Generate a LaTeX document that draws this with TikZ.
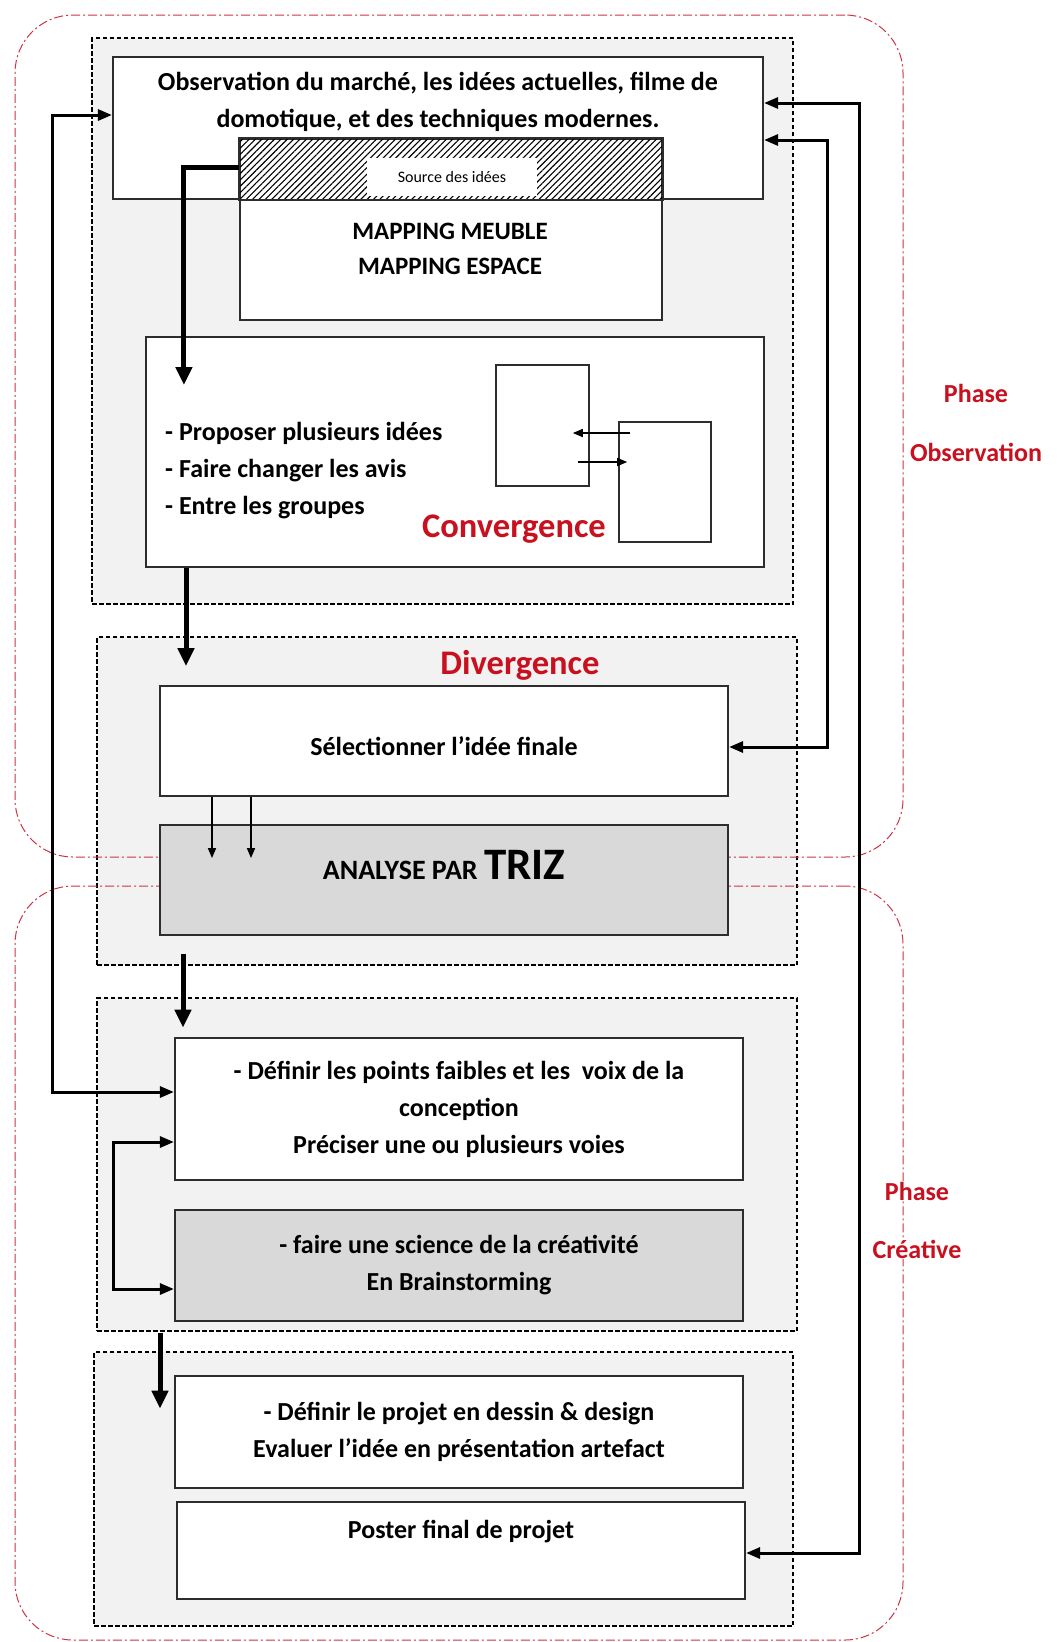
\documentclass[tikz,border=0pt]{standalone}
\usepackage{fontspec}
\setmainfont{Carlito}
\usetikzlibrary{arrows.meta,patterns.meta}
\definecolor{phasered}{RGB}{205,50,70}
\definecolor{labelred}{RGB}{200,16,30}
\definecolor{groupgray}{RGB}{242,242,242}
\definecolor{boxgray}{RGB}{217,217,217}
\definecolor{boxline}{RGB}{45,45,45}
\tikzset{
  phasebox/.style={draw=phasered, line width=1pt, dash pattern=on 9pt off 3pt on 2pt off 3pt, rounded corners=58pt, inner sep=0pt},
  groupbox/.style={draw=black, fill=groupgray, line width=1.2pt, dash pattern=on 4.5pt off 2.5pt, inner sep=0pt},
  stepbox/.style={draw=boxline, fill=white, line width=2.2pt, inner sep=0pt},
  graybox/.style={stepbox, fill=boxgray},
  bodytext/.style={font=\bfseries\fontsize{26}{37}\selectfont, align=center, inner sep=0pt},
  redtext/.style={text=labelred, font=\bfseries\fontsize{34.5}{40}\selectfont, inner sep=0pt},
  phasetext/.style={text=labelred, fill=white, font=\bfseries\fontsize{26}{30}\selectfont, inner sep=1pt},
  flowarrow/.style={-{Triangle[length=18pt,width=16pt]}, line width=5pt},
  looparrow/.style={{Triangle[length=14pt,width=11pt]}-{Triangle[length=14pt,width=11pt]}, line width=3pt},
  smallarrow/.style={-{Triangle[length=10pt,width=8pt]}, line width=1.6pt}
}

\begin{document}
\begin{tikzpicture}[x=1pt, y=-1pt]
\useasboundingbox (0,0) rectangle (1057,1642);
\node[groupbox, minimum width=701pt, minimum height=566pt] (g1) at (442.5,321) {};
\node[groupbox, minimum width=700pt, minimum height=328pt] (g2) at (447,801) {};
\node[groupbox, minimum width=700pt, minimum height=333pt] (g3) at (447,1164.5) {};
\node[groupbox, minimum width=699pt, minimum height=274pt] (g4) at (443.5,1489) {};
\node[phasebox, minimum width=888pt, minimum height=842pt] (ph1) at (459,436) {};
\node[phasebox, minimum width=888pt, minimum height=754pt] (ph2) at (459,1263) {};
\node[phasetext] (ph1a) at (976,393) {Phase};
\node[phasetext] (ph1b) at (976,452) {Observation};
\node[phasetext] (ph2a) at (917,1191) {Phase};
\node[phasetext] (ph2b) at (917,1249) {Créative};

\node[stepbox, minimum width=650pt, minimum height=142pt] (obs) at (438,128) {};
\node[bodytext] (obstext) at (438,102) {Observation du marché, les idées actuelles, filme de\\domotique, et des techniques modernes.};
\node[stepbox, minimum width=422pt, minimum height=181pt] (src) at (451,229.5) {};
\draw[boxline, line width=2pt, pattern={Lines[angle=45,distance=4.5pt,line width=1.1pt]}] (src.north west) rectangle (src.east |- obs.south);
\node[fill=white, minimum width=170pt, minimum height=38pt, inner sep=0pt, font=\fontsize{16}{18}\selectfont] (srclabel) at (452,177) {Source des idées};
\node[bodytext, font=\bfseries\fontsize{25}{35}\selectfont] (maptext) at (450,248.5) {MAPPING MEUBLE\\MAPPING ESPACE};

\node[stepbox, minimum width=618pt, minimum height=230pt] (conv) at (455,452) {};
\node[bodytext, align=left, anchor=west] (convlist) at (165,471) {- Proposer plusieurs idées\\- Faire changer les avis\\- Entre les groupes};
\node[stepbox, line width=1.6pt, minimum width=93pt, minimum height=121pt] (rectA) at (542.5,425.5) {};
\node[stepbox, line width=1.6pt, minimum width=92pt, minimum height=120pt] (rectB) at (665,482) {};
\node[redtext] (convlabel) at (514,529) {Convergence};
\draw[smallarrow] ([shift={(12,-49)}]rectB.west) -- ([shift={(-17,7.5)}]rectA.east);
\draw[smallarrow] ([shift={(-12,36.5)}]rectA.east) -- ([shift={(9,-20)}]rectB.west);

\node[redtext] (divlabel) at (520,665) {Divergence};
\node[stepbox, minimum width=568pt, minimum height=110pt] (sel) at (444,741) {};
\node[bodytext] (seltext) at (444,746) {Sélectionner l’idée finale};
\node[graybox, minimum width=568pt, minimum height=110pt] (triz) at (444,880) {};
\node[bodytext, font=\bfseries\fontsize{28}{30}\selectfont] (triztext) at (444,865) {ANALYSE PAR {\fontsize{45}{46}\selectfont TRIZ}};
\draw[smallarrow] ([shift={(-232,0)}]sel.south) -- ++(0,61);
\draw[smallarrow] ([shift={(-193,0)}]sel.south) -- ++(0,61);

\node[stepbox, bodytext, minimum width=568pt, minimum height=142pt] (def) at (459,1109) {- Définir les points faibles et les\ \ voix de la\\conception\\Préciser une ou plusieurs voies};
\node[graybox, bodytext, minimum width=568pt, minimum height=111pt] (brain) at (459,1265.5) {- faire une science de la créativité\\En Brainstorming};
\node[stepbox, bodytext, minimum width=568pt, minimum height=112pt] (proj) at (459,1432) {- Définir le projet en dessin \& design\\Evaluer l’idée en présentation artefact};
\node[stepbox, minimum width=568pt, minimum height=97pt] (poster) at (461,1550.5) {};
\node[bodytext] (postertext) at (461,1532) {Poster final de projet};

\draw[flowarrow] ([shift={(0,-62.5)}]src.west) -- ++(-55,0) -- ++(0,218);
\draw[flowarrow] ([shift={(-269,0)}]conv.south) -- ++(0,98);
\draw[flowarrow] ([shift={(-264,-12)}]g2.south) -- ++(0,74);
\draw[flowarrow] ([shift={(-287,1)}]g3.south) -- ++(0,76);

\draw[looparrow] ([shift={(0,-13)}]obs.west) -- ++(-59,0) |- ([shift={(0,-17)}]def.west);
\draw[looparrow] ([shift={(0,33)}]def.west) -- ++(-60,0) |- ([shift={(0,23.5)}]brain.west);
\draw[looparrow] ([shift={(0,-25)}]obs.east) -- ++(95,0) |- ([shift={(0,2.5)}]poster.east);
\draw[looparrow] ([shift={(0,12)}]obs.east) -- ++(63,0) |- ([shift={(0,6)}]sel.east);
\end{tikzpicture}
\end{document}
